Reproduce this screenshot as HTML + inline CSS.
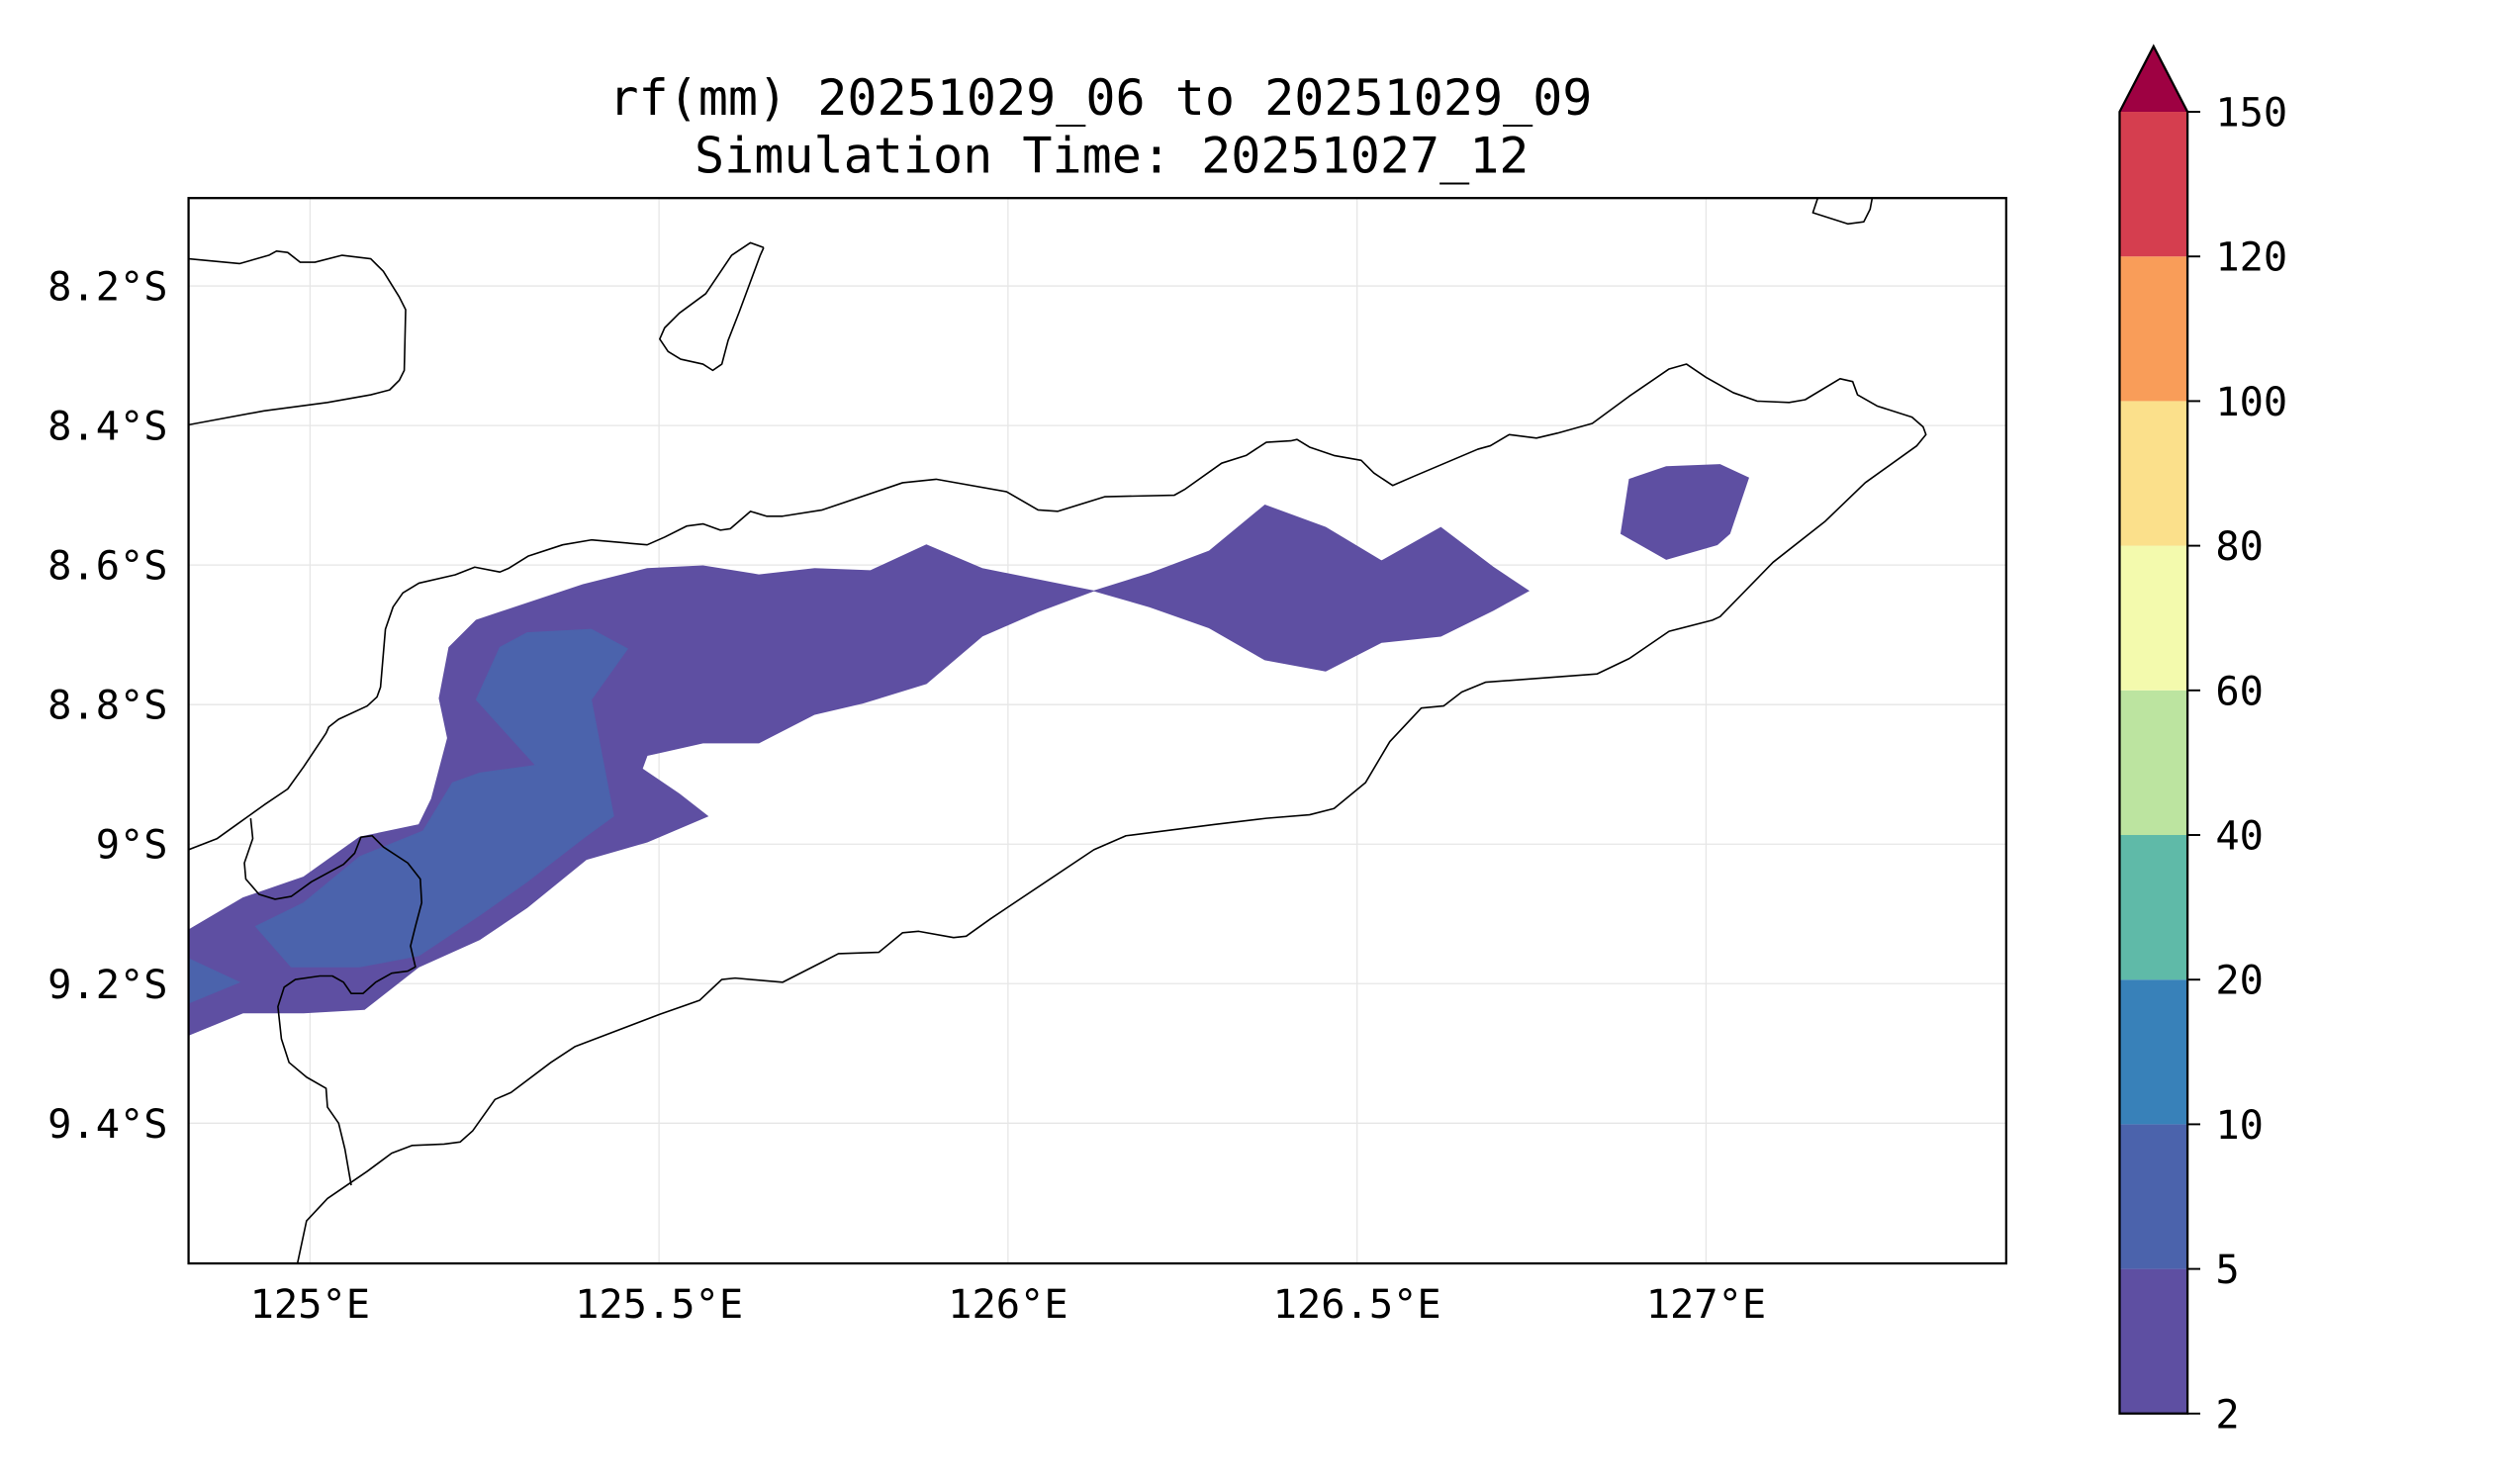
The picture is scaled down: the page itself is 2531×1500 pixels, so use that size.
<!DOCTYPE html>
<html><head><meta charset="utf-8"><style>
html,body{margin:0;padding:0;background:#fff}
svg{display:block}
text{font-family:"DejaVu Sans Mono","Liberation Mono",monospace;fill:#000}
</style></head><body>
<svg id="chart" xmlns="http://www.w3.org/2000/svg" width="2531" height="1500" viewBox="0 0 1567.6 929.1">
<rect x="0" y="0" width="1567.6" height="929.1" fill="#fff"/>
<text x="689" y="72" text-anchor="middle" font-size="31">rf(mm) 20251029_06 to 20251029_09</text>
<text x="696" y="108" text-anchor="middle" font-size="31">Simulation Time: 20251027_12</text>
<defs><clipPath id="plotclip"><rect x="118" y="124" width="1138" height="667"/></clipPath></defs>
<g id="grid"></g>
<g id="fills" clip-path="url(#plotclip)"></g>
<g id="coasts" clip-path="url(#plotclip)"></g>
<rect x="118" y="124" width="1138" height="667" fill="none" stroke="#000" stroke-width="1.4"/>
<g id="axes"></g>
<g id="cbar"></g>
</svg>
<script>
// ---- data ----
const lonTicks = [125, 125.5, 126, 126.5, 127];
const lonTickLabels = ["125°E", "125.5°E", "126°E", "126.5°E", "127°E"];
const latTicks = [8.2, 8.4, 8.6, 8.8, 9.0, 9.2, 9.4];
const latTickLabels = ["8.2°S", "8.4°S", "8.6°S", "8.8°S", "9°S", "9.2°S", "9.4°S"];
const levels = [2, 5, 10, 20, 40, 60, 80, 100, 120, 150];
const levelColors = ["#5e4fa2", "#4b63ac", "#3881b9", "#5fbaa8", "#bce4a0", "#f3faad", "#fbe08b", "#f99d59", "#d53e4f"];
const extendColor = "#9e0142";

// contour polygons: [lon, lat(°S)]
const contour2to5Main = [[124.826,9.123],[124.904,9.077],[124.991,9.047],[125.071,8.990],[125.156,8.972],[125.174,8.935],[125.197,8.848],[125.185,8.791],[125.199,8.718],[125.238,8.679],[125.391,8.628],[125.483,8.605],[125.563,8.601],[125.643,8.614],[125.723,8.605],[125.803,8.608],[125.883,8.571],[125.963,8.605],[126.123,8.637],[126.203,8.612],[126.288,8.580],[126.368,8.514],[126.455,8.546],[126.535,8.594],[126.620,8.546],[126.695,8.603],[126.746,8.637],[126.695,8.665],[126.620,8.702],[126.535,8.711],[126.455,8.752],[126.368,8.736],[126.288,8.690],[126.203,8.660],[126.123,8.637],[126.043,8.667],[125.963,8.702],[125.883,8.770],[125.792,8.798],[125.723,8.814],[125.643,8.855],[125.563,8.855],[125.483,8.873],[125.476,8.892],[125.529,8.928],[125.570,8.960],[125.483,8.997],[125.396,9.022],[125.311,9.091],[125.243,9.137],[125.156,9.176],[125.078,9.237],[124.991,9.242],[124.904,9.242],[124.826,9.274]];
const contour2to5East = [[126.890,8.477],[126.943,8.459],[127.020,8.456],[127.061,8.475],[127.034,8.555],[127.016,8.571],[126.943,8.592],[126.878,8.555]];
const contour5to10Main = [[125.238,8.793],[125.272,8.718],[125.311,8.697],[125.403,8.692],[125.455,8.720],[125.403,8.793],[125.435,8.960],[125.391,8.992],[125.311,9.054],[125.243,9.102],[125.156,9.160],[125.071,9.176],[124.973,9.176],[124.922,9.118],[124.991,9.084],[125.071,9.018],[125.162,8.981],[125.204,8.912],[125.243,8.898],[125.323,8.887]];
const contour5to10Edge = [[124.826,9.164],[124.899,9.198],[124.826,9.228]];

// coastlines
const coastNW = [[124.826,8.161],[124.899,8.168],[124.941,8.156],[124.952,8.150],[124.968,8.152],[124.986,8.166],[125.007,8.166],[125.046,8.156],[125.087,8.161],[125.105,8.179],[125.128,8.216],[125.137,8.234],[125.135,8.321],[125.128,8.335],[125.114,8.349],[125.087,8.356],[125.025,8.367],[124.934,8.379],[124.826,8.399]];
const coastIsland = [[125.650,8.145],[125.631,8.138],[125.604,8.156],[125.567,8.211],[125.529,8.239],[125.508,8.260],[125.501,8.276],[125.513,8.294],[125.531,8.305],[125.563,8.312],[125.577,8.321],[125.590,8.312],[125.599,8.278],[125.615,8.237],[125.645,8.156],[125.650,8.145]];
const coastNE = [[127.160,8.074],[127.153,8.095],[127.203,8.111],[127.226,8.108],[127.235,8.090],[127.238,8.074]];
const coastTimor = [[124.826,9.008],[124.867,8.992],[124.895,8.972],[124.934,8.944],[124.968,8.921],[124.991,8.889],[125.023,8.841],[125.027,8.832],[125.041,8.821],[125.082,8.802],[125.096,8.789],[125.101,8.775],[125.108,8.692],[125.119,8.660],[125.133,8.640],[125.156,8.626],[125.208,8.614],[125.236,8.603],[125.272,8.610],[125.284,8.605],[125.313,8.587],[125.362,8.571],[125.403,8.564],[125.483,8.571],[125.508,8.560],[125.540,8.544],[125.563,8.541],[125.588,8.550],[125.602,8.548],[125.631,8.523],[125.654,8.530],[125.677,8.530],[125.734,8.521],[125.849,8.482],[125.897,8.477],[125.998,8.495],[126.043,8.521],[126.071,8.523],[126.139,8.502],[126.238,8.500],[126.254,8.491],[126.306,8.454],[126.341,8.443],[126.370,8.424],[126.405,8.422],[126.414,8.420],[126.432,8.431],[126.467,8.443],[126.506,8.450],[126.524,8.468],[126.551,8.486],[126.581,8.473],[126.673,8.434],[126.691,8.429],[126.718,8.413],[126.757,8.418],[126.787,8.411],[126.837,8.397],[126.890,8.358],[126.947,8.319],[126.972,8.312],[127.000,8.331],[127.039,8.353],[127.073,8.365],[127.119,8.367],[127.142,8.363],[127.192,8.333],[127.210,8.337],[127.217,8.356],[127.245,8.372],[127.295,8.388],[127.311,8.402],[127.315,8.413],[127.302,8.429],[127.228,8.482],[127.171,8.537],[127.096,8.596],[127.020,8.674],[127.009,8.679],[126.947,8.695],[126.890,8.734],[126.844,8.756],[126.684,8.768],[126.650,8.782],[126.624,8.802],[126.592,8.805],[126.547,8.853],[126.512,8.912],[126.467,8.949],[126.432,8.958],[126.370,8.963],[126.295,8.972],[126.169,8.988],[126.123,9.008],[125.975,9.107],[125.940,9.132],[125.922,9.134],[125.872,9.125],[125.849,9.127],[125.815,9.155],[125.757,9.157],[125.734,9.169],[125.677,9.198],[125.654,9.196],[125.609,9.192],[125.590,9.194],[125.558,9.224],[125.501,9.244],[125.380,9.290],[125.345,9.313],[125.288,9.356],[125.265,9.366],[125.233,9.411],[125.215,9.427],[125.192,9.430],[125.146,9.432],[125.117,9.443],[125.082,9.469],[125.025,9.508],[124.995,9.540],[124.982,9.601]];
const borderLine = [[124.915,8.963],[124.918,8.992],[124.906,9.027],[124.908,9.050],[124.927,9.072],[124.950,9.079],[124.973,9.075],[125.002,9.054],[125.048,9.029],[125.064,9.013],[125.073,8.990],[125.089,8.988],[125.105,9.004],[125.140,9.027],[125.158,9.050],[125.160,9.084],[125.151,9.118],[125.144,9.146],[125.151,9.176],[125.140,9.182],[125.117,9.185],[125.094,9.198],[125.076,9.214],[125.059,9.214],[125.048,9.198],[125.032,9.189],[125.014,9.189],[124.979,9.194],[124.963,9.205],[124.954,9.233],[124.959,9.279],[124.970,9.313],[124.995,9.334],[125.023,9.350],[125.025,9.377],[125.041,9.400],[125.050,9.437],[125.059,9.489]];

// ---- axis functions ----
const X0 = 118, X1 = 1256, Y0 = 124, Y1 = 791;
const lonMin = 124.826, lonMax = 127.430, latMin = 8.074, latMax = 9.601;
function xs(lon){ return X0 + (lon - lonMin) / (lonMax - lonMin) * (X1 - X0); }
function ys(lat){ return Y0 + (lat - latMin) / (latMax - latMin) * (Y1 - Y0); }
const NS = "http://www.w3.org/2000/svg";
function mk(tag, attrs, parent){
  const e = document.createElementNS(NS, tag);
  for (const k in attrs) e.setAttribute(k, attrs[k]);
  parent.appendChild(e);
  return e;
}
function pts(arr){ return arr.map(p => xs(p[0]).toFixed(2) + "," + ys(p[1]).toFixed(2)).join(" "); }

// gridlines
const grid = document.getElementById("grid");
lonTicks.forEach(v => {
  const l = mk("line", {x1: xs(v), x2: xs(v), y1: Y0, y2: Y1, stroke: "#e6e6e6", "stroke-width": 0.8}, grid);
  
  
});
latTicks.forEach(v => {
  const l = mk("line", {x1: X0, x2: X1, y1: ys(v), y2: ys(v), stroke: "#e6e6e6", "stroke-width": 0.8}, grid);
  
  
});

// fills
const fills = document.getElementById("fills");
[[contour2to5Main, 0, "contour-2-5-main"], [contour2to5East, 0, "contour-2-5-east"], [contour5to10Main, 1, "contour-5-10-main"], [contour5to10Edge, 1, "contour-5-10-edge"]].forEach(c => {
  const p = mk("polygon", {points: pts(c[0]), fill: levelColors[c[1]], stroke: levelColors[c[1]], "stroke-width": 0.5}, fills);
  
  
});

// coastlines
const coasts = document.getElementById("coasts");
[[coastNW, "coast-northwest"], [coastIsland, "coast-atauro-island"], [coastNE, "coast-northeast"], [coastTimor, "coast-timor"], [borderLine, "border-line"]].forEach(c => {
  const p = mk("polyline", {points: pts(c[0]), fill: "none", stroke: "#000", "stroke-width": 1, "stroke-linejoin": "round"}, coasts);
  
  
});

// axis labels
const axes = document.getElementById("axes");
lonTicks.forEach((v, i) => {
  const t = mk("text", {x: xs(v), y: 825, "text-anchor": "middle", "font-size": 25}, axes);
  t.textContent = lonTickLabels[i];
  
  
});
latTicks.forEach((v, i) => {
  const t = mk("text", {x: 105, y: ys(v) + 9, "text-anchor": "end", "font-size": 25}, axes);
  t.textContent = latTickLabels[i];
  
  
});

// colorbar
const cb = document.getElementById("cbar");
const CX0 = 1327, CX1 = 1369.5, CY0 = 70, CY1 = 885, CTIP = 29;
function cy(i){ return CY1 - i / (levels.length - 1) * (CY1 - CY0); }
for (let i = 0; i < levels.length - 1; i++) {
  const r = mk("rect", {x: CX0, y: cy(i + 1), width: CX1 - CX0, height: cy(i) - cy(i + 1), fill: levelColors[i]}, cb);
  
  
}
const tri = mk("polygon", {points: CX0 + "," + CY0 + " " + ((CX0 + CX1) / 2) + "," + CTIP + " " + CX1 + "," + CY0, fill: extendColor}, cb);


const outline = mk("polygon", {points: CX0 + "," + CY1 + " " + CX0 + "," + CY0 + " " + ((CX0 + CX1) / 2) + "," + CTIP + " " + CX1 + "," + CY0 + " " + CX1 + "," + CY1, fill: "none", stroke: "#000", "stroke-width": 1.4}, cb);


levels.forEach((v, i) => {
  const tk = mk("line", {x1: CX1, x2: CX1 + 8, y1: cy(i), y2: cy(i), stroke: "#000", "stroke-width": 1.2}, cb);
  
  
  const t = mk("text", {x: 1387, y: cy(i) + 9, "font-size": 25}, cb);
  t.textContent = String(v);
  
  
});
</script>
</body></html>
